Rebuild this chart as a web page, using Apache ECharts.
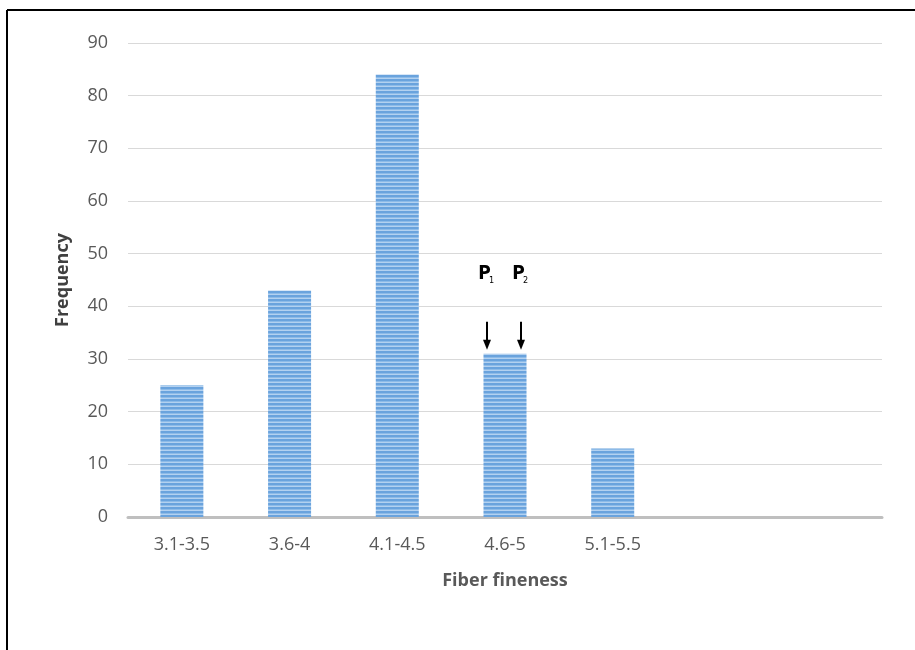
<!DOCTYPE html>
<html><head><meta charset="utf-8">
<script src="https://cdn.jsdelivr.net/npm/echarts@6/dist/echarts.min.js"></script>
<style>html,body{margin:0;padding:0;background:#fff}#c{width:915px;height:650px}</style>
</head><body><div id="c"></div>
<script>
const categories = ['3.1-3.5','3.6-4','4.1-4.5','4.6-5','5.1-5.5','',''];
const frequency = [25,43,84,31,13,null,null];
const yTicks = [0,10,20,30,40,50,60,70,80,90];
const annotations = ['P1','P2'];

// striped fill pattern
const pc = document.createElement('canvas');
pc.width = 4; pc.height = 4;
const px = pc.getContext('2d');
px.fillStyle = '#6aa3dd'; px.fillRect(0,0,4,4);
px.fillStyle = '#b3d1f0'; px.fillRect(0,2,4,1);
px.fillStyle = '#8dbbe8'; px.fillRect(0,1,4,1);

const chart = echarts.init(document.getElementById('c'));
const font = '"Open Sans", "Liberation Sans", sans-serif';
chart.setOption({
  animation:false,
  backgroundColor:'#fff',
  grid:{left:128,right:33,top:43,bottom:133},
  xAxis:{type:'category',data:categories,
    axisLine:{lineStyle:{color:'#bfbfbf',width:3}},
    axisTick:{show:false},
    axisLabel:{color:'#595959',fontSize:18,fontFamily:font,margin:19,interval:0},
    name:'Fiber fineness',nameLocation:'middle',nameGap:55,
    nameTextStyle:{fontWeight:'bold',fontSize:18,color:'#595959',fontFamily:font}},
  yAxis:{type:'value',min:yTicks[0],max:yTicks[yTicks.length-1],interval:10,
    axisLine:{show:false},axisTick:{show:false},
    splitLine:{lineStyle:{color:'#d9d9d9',width:1}},
    axisLabel:{color:'#595959',fontSize:18,fontFamily:font,margin:20},
    name:'Frequency',nameLocation:'middle',nameGap:56,nameRotate:90,
    nameTextStyle:{fontWeight:'bold',fontSize:18,color:'#404040',fontFamily:font}},
  series:[{type:'bar',data:frequency,barWidth:43,
    itemStyle:{color:{image:pc,repeat:'repeat'}}}]
});

// annotations positioned from the chart's own scales
const base = chart.convertToPixel({xAxisIndex:0,yAxisIndex:0},[3,frequency[3]]);
const cx = base[0], topY = base[1];
const offs = [-18,16];
const g = [
  {type:'line',shape:{x1:7,y1:10,x2:7,y2:650},style:{stroke:'#000',lineWidth:2}},
  {type:'line',shape:{x1:7,y1:10,x2:915,y2:10},style:{stroke:'#000',lineWidth:2}},
  {type:'rect',shape:{x:cx-1,y:topY,width:2,height:8},style:{fill:'#fff'}}
];
annotations.forEach((a,i)=>{
  const x = cx+offs[i];
  g.push({type:'text',x:x,y:topY-90,style:{
    text:'{p|'+a[0]+'}{s|'+a.slice(1)+'}',
    rich:{p:{fontSize:19,fontWeight:'bold',fontFamily:'"DejaVu Sans Condensed", sans-serif',fill:'#000',width:9},
          s:{fontSize:9,fontFamily:'"DejaVu Sans Condensed", sans-serif',fill:'#000',padding:[12,0,0,0]}},
    align:'center',verticalAlign:'top'}});
  g.push({type:'line',shape:{x1:x,y1:topY-32,x2:x,y2:topY-10},style:{stroke:'#000',lineWidth:2}});
  g.push({type:'polygon',shape:{points:[[x-4,topY-14],[x+4,topY-14],[x,topY-4]]},style:{fill:'#000'}});
});
chart.setOption({graphic:g});
</script></body></html>
